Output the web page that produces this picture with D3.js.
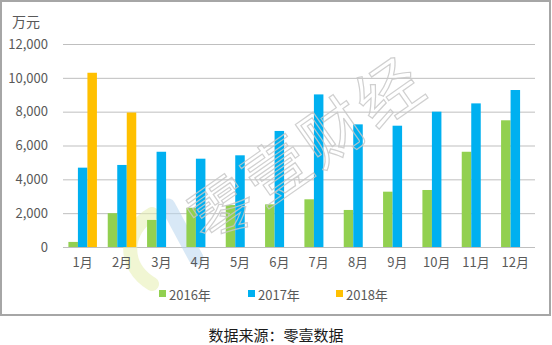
<!DOCTYPE html>
<html>
<head>
<meta charset="utf-8">
<script src="https://cdn.jsdelivr.net/npm/d3@7/dist/d3.min.js"></script>
<style>
  html, body { margin: 0; padding: 0; background: #fff; }
  svg { display: block; }
  text { font-family: "Noto Sans CJK SC", "Noto Sans", sans-serif; }
</style>
</head>
<body>
<svg id="chart" width="552" height="345"></svg>
<script>
// Monthly amounts, unit: 万元
const months = ["1月", "2月", "3月", "4月", "5月", "6月", "7月", "8月", "9月", "10月", "11月", "12月"];
const seriesNames = ["2016年", "2017年", "2018年"];
const values2016 = [300, 2000, 1600, 2320, 2480, 2520, 2820, 2190, 3270, 3370, 5630, 7490];
const values2017 = [4690, 4850, 5630, 5220, 5420, 6860, 9020, 7250, 7170, 8000, 8490, 9280];
const values2018 = [10300, 7950, null, null, null, null, null, null, null, null, null, null];
const yTicks = [0, 2000, 4000, 6000, 8000, 10000, 12000];
const colors = ["#92D050", "#00B0F0", "#FFC000"];

const svg = d3.select("#chart");
const plot = { left: 63, right: 535, top: 44, bottom: 247 };

// outer frame
svg.append("rect")
  .attr("x", 1).attr("y", 1).attr("width", 549).attr("height", 314)
  .attr("fill", "#fff").attr("stroke", "#a6a6a6").attr("stroke-width", 2);

const x = d3.scaleBand().domain(months).range([plot.left, plot.right]).paddingInner(0.275).paddingOuter(0.1375);
const xs = d3.scaleBand().domain(seriesNames).range([0, x.bandwidth()]);
const y = d3.scaleLinear().domain([0, 12000]).range([plot.bottom, plot.top]);

// gridlines
svg.append("g").selectAll("line").data(yTicks).join("line")
  .attr("x1", plot.left).attr("x2", plot.right)
  .attr("y1", d => y(d) + 0.5).attr("y2", d => y(d) + 0.5)
  .attr("stroke", "#bfbfbf").attr("stroke-width", 1);

// y axis labels
const yAxis = d3.axisLeft(y).tickValues(yTicks).tickFormat(d3.format(",")).tickSize(0).tickPadding(0);
const gy = svg.append("g").attr("transform", `translate(${plot.left - 15},0)`).call(yAxis);
gy.select(".domain").remove();
gy.selectAll("text").attr("fill", "#595959").attr("font-size", 13)
  .style("font-family", "'Noto Sans CJK SC', sans-serif");

// unit label
svg.append("text").attr("x", 12).attr("y", 27).attr("font-size", 14).attr("fill", "#595959").text("万元");

// watermark logo
const wm = svg.append("g").attr("opacity", 0.55);
wm.append("path")
  .attr("d", "M152,214 C124,230 122,266 152,284")
  .attr("fill", "none").attr("stroke", "#e6efb0").attr("stroke-width", 14).attr("stroke-linecap", "round");
wm.append("path")
  .attr("d", "M168,206 L196,258")
  .attr("fill", "none").attr("stroke", "#b9d7ef").attr("stroke-width", 15).attr("stroke-linecap", "round");

// bars
const series = [values2016, values2017, values2018];
series.forEach((vals, si) => {
  svg.append("g").selectAll("rect")
    .data(months.map((m, i) => ({ m, v: vals[i] })).filter(d => d.v != null))
    .join("rect")
    .attr("x", d => x(d.m) + xs(seriesNames[si]))
    .attr("width", xs.bandwidth())
    .attr("y", d => y(d.v))
    .attr("height", d => y(0) - y(d.v))
    .attr("fill", colors[si]);
});

// watermark text
svg.append("text")
  .attr("transform", "translate(310,155) rotate(-35)")
  .attr("text-anchor", "middle").attr("dominant-baseline", "middle")
  .attr("font-size", 64).attr("letter-spacing", 4).attr("fill", "none")
  .attr("stroke", "#c8c8c8").attr("stroke-width", 1.2).attr("opacity", 0.85)
  .text("零壹财经");

// x axis labels
const xAxis = d3.axisBottom(x).tickSize(0).tickPadding(0);
const gx = svg.append("g").attr("transform", `translate(0,${plot.bottom + 11})`).call(xAxis);
gx.select(".domain").remove();
gx.selectAll("text").attr("fill", "#595959").attr("font-size", 13).attr("dy", "0.71em")
  .style("font-family", "'Noto Sans CJK SC', sans-serif");

// legend
const legendX = [159, 248, 336];
const legend = svg.append("g");
seriesNames.forEach((name, i) => {
  legend.append("rect").attr("x", legendX[i]).attr("y", 290).attr("width", 7).attr("height", 7).attr("fill", colors[i]);
  legend.append("text").attr("x", legendX[i] + 10).attr("y", 294).attr("dominant-baseline", "central")
    .attr("font-size", 13).attr("fill", "#595959").text(name);
});

// source note
svg.append("text").attr("x", 276).attr("y", 334).attr("text-anchor", "middle")
  .attr("dominant-baseline", "central").attr("font-size", 15).attr("fill", "#1a1a1a")
  .text("数据来源：零壹数据");
</script>
</body>
</html>
